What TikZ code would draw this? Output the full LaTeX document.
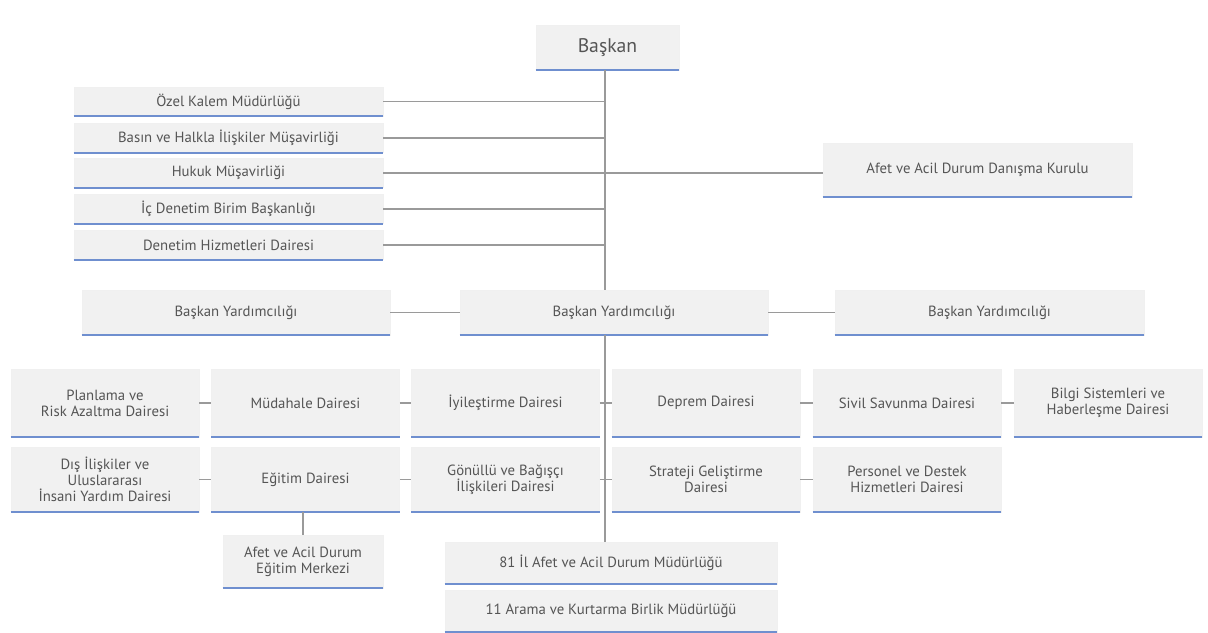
\documentclass[tikz,border=0pt]{standalone}
\usepackage{fontspec}
\setmainfont{PT Sans}
\definecolor{kutu}{HTML}{F1F1F1}
\definecolor{mavi}{HTML}{6F8FCF}
\definecolor{cizgi}{HTML}{9A9A9A}
\definecolor{yazi}{HTML}{555555}
\begin{document}
\begin{tikzpicture}[x=0.025cm, y=-0.025cm,
  box/.style 2 args={fill=kutu, draw=black!6, inner sep=1pt, align=center,
    text=yazi, font=\fontsize{10.5}{11.5}\selectfont,
    minimum width={#1*0.025cm}, minimum height={#2*0.025cm}},
  alt/.style={mavi, line width=1.5pt},
  bag/.style={cizgi, line width=0.8pt}]
\useasboundingbox (0,0) rectangle (1208,632);
\coordinate (trunk) at (605,0);

% başkan ve danışma
\node[box={143}{45}, font=\fontsize{14}{16}\selectfont] (baskan) at (607.5,47.5) {Başkan};
\node[box={309}{54}] (kurul) at (977.5,170) {Afet ve Acil Durum Danışma Kurulu};

% sol sütun
\node[box={309}{29}] (ozel) at (228.5,101.5) {Özel Kalem Müdürlüğü};
\node[box={309}{29}] (basin) at (228.5,138) {Basın ve Halkla İlişkiler Müşavirliği};
\node[box={309}{29}] (hukuk) at (228.5,173) {Hukuk Müşavirliği};
\node[box={309}{29}] (icden) at (228.5,209) {İç Denetim Birim Başkanlığı};
\node[box={309}{29}] (denhiz) at (228.5,245) {Denetim Hizmetleri Dairesi};

% başkan yardımcılıkları
\node[box={308}{45}] (by1) at (236,312.5) {Başkan Yardımcılığı};
\node[box={308}{45}] (by2) at (614,312.5) {Başkan Yardımcılığı};
\node[box={309}{45}] (by3) at (989.5,312.5) {Başkan Yardımcılığı};

% daireler, 1. sıra
\node[box={188}{68}] (plan) at (105,403) {Planlama ve\\Risk Azaltma Dairesi};
\node[box={188}{68}] (mudahale) at (305.5,403) {Müdahale Dairesi};
\node[box={188}{68}] (iyi) at (505.5,403) {İyileştirme Dairesi};
\node[box={188}{68}] (deprem) at (706,403) {Deprem Dairesi};
\node[box={188}{68}] (sivil) at (907,403) {Sivil Savunma Dairesi};
\node[box={188}{68}] (bilgi) at (1108,403) {Bilgi Sistemleri ve\\Haberleşme Dairesi};

% daireler, 2. sıra
\node[box={188}{65}] (dis) at (105,479.5) {Dış İlişkiler ve\\Uluslararası\\İnsani Yardım Dairesi};
\node[box={188}{65}] (egitim) at (305.5,479.5) {Eğitim Dairesi};
\node[box={188}{65}] (gonullu) at (505.5,479.5) {Gönüllü ve Bağışçı\\İlişkileri Dairesi};
\node[box={188}{65}] (strateji) at (706,479.5) {Strateji Geliştirme\\Dairesi};
\node[box={188}{65}] (personel) at (907,479.5) {Personel ve Destek\\Hizmetleri Dairesi};

% alt kutular
\node[box={160}{53}] (merkez) at (303,561.5) {Afet ve Acil Durum\\Eğitim Merkezi};
\node[box={332}{42}] (il81) at (611,563) {81 İl Afet ve Acil Durum Müdürlüğü};
\node[box={332}{42}] (arama) at (611,611) {11 Arama ve Kurtarma Birlik Müdürlüğü};

% mavi alt çizgiler
\foreach \n in {baskan,kurul,ozel,basin,hukuk,icden,denhiz,by1,by2,by3,
  plan,mudahale,iyi,deprem,sivil,bilgi,dis,egitim,gonullu,strateji,personel,
  merkez,il81,arama}
  \draw[alt] (\n.south west) -- (\n.south east);

% bağlantılar
\draw[bag] (baskan.south -| trunk) -- (by2.north -| trunk);
\draw[bag] (by2.south -| trunk) -- (il81.north -| trunk);
\foreach \n in {ozel,basin,hukuk,icden,denhiz}
  \draw[bag] (\n.east) -- (\n.east -| trunk);
\draw[bag] (hukuk.east -| trunk) -- (hukuk.east -| kurul.west);
\draw[bag] (by1.east) -- (by2.west);
\draw[bag] (by2.east) -- (by3.west);
\draw[bag] (plan.east) -- (mudahale.west);
\draw[bag] (mudahale.east) -- (iyi.west);
\draw[bag] (iyi.east) -- (deprem.west);
\draw[bag] (deprem.east) -- (sivil.west);
\draw[bag] (sivil.east) -- (bilgi.west);
\draw[bag] (dis.east) -- (egitim.west);
\draw[bag] (egitim.east) -- (gonullu.west);
\draw[bag] (gonullu.east) -- (strateji.west);
\draw[bag] (strateji.east) -- (personel.west);
\draw[bag] (merkez.north) -- (merkez.north |- egitim.south);
\end{tikzpicture}
\end{document}
